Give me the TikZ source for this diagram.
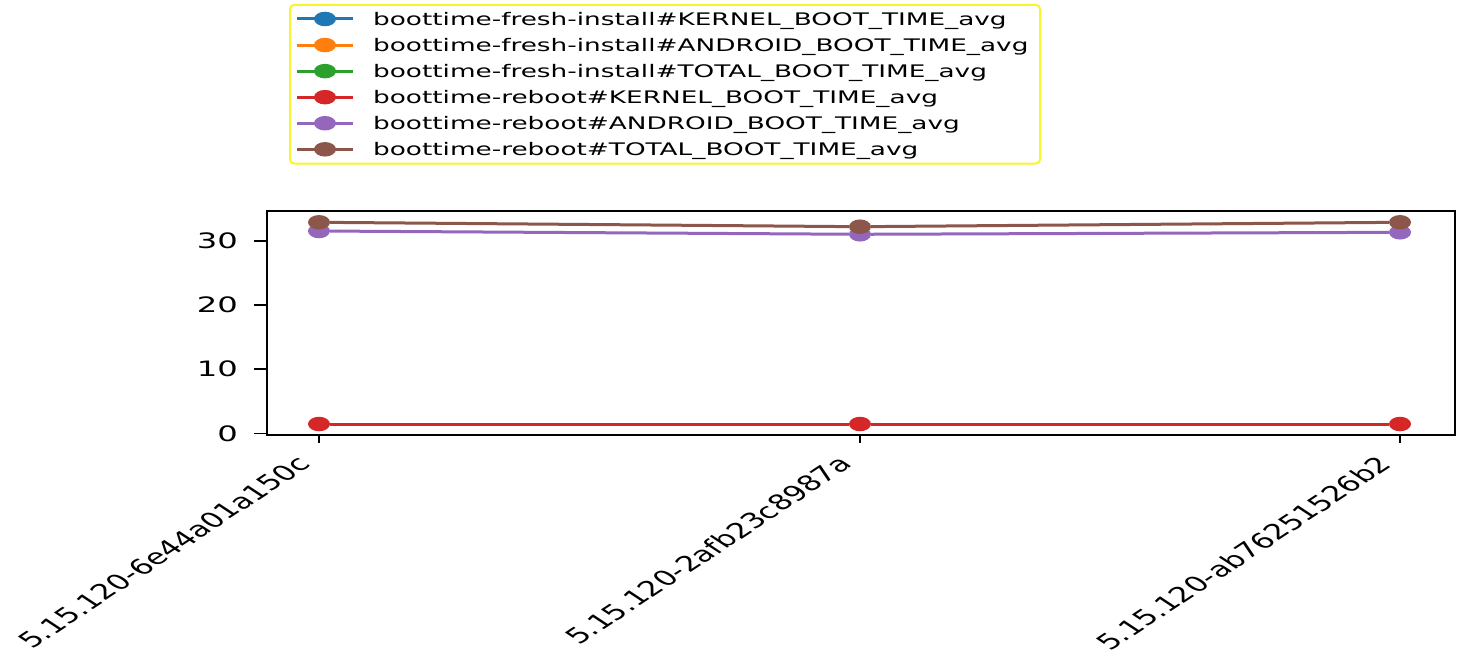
\documentclass[tikz,border=0pt]{standalone}
\usepackage{fontspec}
\setmainfont{DejaVu Sans}
\usepackage{graphicx}
\usetikzlibrary{shapes.geometric}

\definecolor{tabblue}{HTML}{1F77B4}
\definecolor{taborange}{HTML}{FF7F0E}
\definecolor{tabgreen}{HTML}{2CA02C}
\definecolor{tabred}{HTML}{D62728}
\definecolor{tabpurple}{HTML}{9467BD}
\definecolor{tabbrown}{HTML}{8C564B}
\definecolor{legendframe}{RGB}{250,245,40}

\newcommand{\stretched}[1]{\scalebox{1.52}[1]{#1}}

\begin{document}
\begin{tikzpicture}[x=1pt,y=-1pt]
    \tikzset{dot/.style = {shape=ellipse,minimum width=22pt,minimum height=14.5pt,inner sep=0pt}}
    \tikzset{series/.style = {line width=3pt}}
    \tikzset{tickmark/.style = {line width=1.6pt}}
    \tikzset{ticklabel/.style = {inner sep=0pt,font=\fontsize{21.2}{25}\selectfont}}
    \tikzset{legendlabel/.style = {inner sep=0pt,anchor=base west,font=\fontsize{17.3}{20}\selectfont}}

    \fill[white] (0,0) rectangle (1463,658);
    \useasboundingbox (0,0) rectangle (1463,658);

    % legend
    \draw[legendframe, line width=2pt, rounded corners=4pt, fill=white] (290,5) rectangle (1040,163.5);
    \foreach \i/\col/\txt in {0/tabblue/boottime-fresh-install\#KERNEL\_BOOT\_TIME\_avg,
                              1/taborange/boottime-fresh-install\#ANDROID\_BOOT\_TIME\_avg,
                              2/tabgreen/boottime-fresh-install\#TOTAL\_BOOT\_TIME\_avg,
                              3/tabred/boottime-reboot\#KERNEL\_BOOT\_TIME\_avg,
                              4/tabpurple/boottime-reboot\#ANDROID\_BOOT\_TIME\_avg,
                              5/tabbrown/boottime-reboot\#TOTAL\_BOOT\_TIME\_avg} {
        \coordinate (la\i) at (297, 19+26.06*\i);
        \coordinate (lb\i) at (353, 19+26.06*\i);
        \node[dot, fill=\col] (lm\i) at (325, 19+26.06*\i) {};
        \draw[series, \col] (la\i) -- (lb\i);
        \node[legendlabel] (lt\i) at (373, 25.3+26.06*\i) {\stretched{\txt}};
    }

    % axes
    \draw[line width=1.6pt] (267,211) rectangle (1455,435);
    \foreach \v/\yy in {0/433.3, 10/369.2, 20/305.1, 30/241} {
        \draw[tickmark] (254,\yy) -- (267,\yy);
        \node[ticklabel, anchor=east] (yl\v) at (238,\yy) {\stretched{\v}};
    }
    \foreach \k/\xx/\txt in {1/319/5.15.120-6e44a01a150c,
                             2/860/5.15.120-2afb23c8987a,
                             3/1400/5.15.120-ab76251526b2} {
        \draw[tickmark] (\xx,435) -- (\xx,443);
        \node[ticklabel, anchor=north east] (xl\k) at (\xx-6,454) {\stretched{\rotatebox{45}{\txt}}};
    }

    % data
    \node[dot, fill=tabred] (r1) at (319,424) {};
    \node[dot, fill=tabred] (r2) at (860,424) {};
    \node[dot, fill=tabred] (r3) at (1400,424) {};
    \draw[series, tabred] (r1) -- (r2) -- (r3);

    \node[dot, fill=tabpurple] (p1) at (319,231) {};
    \node[dot, fill=tabpurple] (p2) at (860,234.3) {};
    \node[dot, fill=tabpurple] (p3) at (1400,232.3) {};
    \draw[series, tabpurple] (p1) -- (p2) -- (p3);

    \node[dot, fill=tabbrown] (b1) at (319,222.3) {};
    \node[dot, fill=tabbrown] (b2) at (860,226.7) {};
    \node[dot, fill=tabbrown] (b3) at (1400,222.3) {};
    \draw[series, tabbrown] (b1) -- (b2) -- (b3);

  \end{tikzpicture}
\end{document}
